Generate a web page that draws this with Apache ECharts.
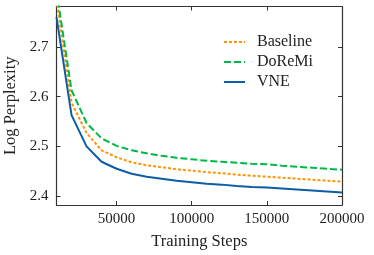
<!DOCTYPE html>
<html><head><meta charset="utf-8">
<script src="https://cdn.jsdelivr.net/npm/echarts@6/dist/echarts.min.js"></script>
<style>html,body{margin:0;padding:0;background:#fff}#c{width:374px;height:255px}</style>
</head><body><div id="c"></div>
<script>
const steps = [10000,20000,30000,40000,50000,60000,70000,80000,90000,100000,110000,120000,130000,140000,150000,160000,170000,180000,190000,200000];
const baseline = [2.795,2.588,2.527,2.492,2.478,2.468,2.462,2.458,2.454,2.451,2.448,2.446,2.443,2.441,2.439,2.437,2.435,2.433,2.431,2.429];
const doremi = [2.813,2.613,2.547,2.516,2.501,2.492,2.486,2.481,2.477,2.474,2.471,2.469,2.467,2.465,2.464,2.461,2.459,2.457,2.455,2.453];
const vne = [2.760,2.563,2.500,2.469,2.455,2.445,2.439,2.435,2.431,2.428,2.425,2.423,2.420,2.418,2.417,2.415,2.413,2.411,2.409,2.407];
const xTicks = [50000,100000,150000,200000];
const yTicks = [2.4,2.5,2.6,2.7];
const FONT = 'Liberation Serif';
const axisCol = '#333';
function pairs(v){return steps.map((s,i)=>[s,v[i]]);}
const chart = echarts.init(document.getElementById('c'));
const common = {axisLine:{show:true,onZero:false,lineStyle:{color:axisCol,width:1.2}},splitLine:{show:false}};
chart.setOption({
  animation:false,
  grid:{left:56.5,right:32,top:6.5,bottom:50,containLabel:false,outerBoundsMode:'none'},
  xAxis:[
    Object.assign({type:'value',min:10000,max:200000,position:'bottom',
      name:'Training Steps',nameLocation:'middle',nameGap:28,
      nameTextStyle:{fontFamily:FONT,fontSize:16.5,color:'#222'},
      axisTick:{show:true,inside:true,length:4,customValues:xTicks,lineStyle:{color:axisCol}},
      axisLabel:{customValues:xTicks,fontFamily:FONT,fontSize:15,color:'#222',margin:7,formatter:v=>String(v)}},common),
    Object.assign({type:'value',min:10000,max:200000,position:'top',
      axisTick:{show:true,inside:true,length:4,customValues:xTicks,lineStyle:{color:axisCol}},
      axisLabel:{show:false}},common)
  ],
  yAxis:[
    Object.assign({type:'value',min:2.382,max:2.7815,position:'left',
      name:'Log Perplexity',nameLocation:'middle',nameGap:33,
      nameTextStyle:{fontFamily:FONT,fontSize:16.5,color:'#222'},
      axisTick:{show:true,inside:true,length:4,customValues:yTicks,lineStyle:{color:axisCol}},
      axisLabel:{customValues:yTicks,fontFamily:FONT,fontSize:15,color:'#222',margin:8,formatter:v=>v.toFixed(1)}},common),
    Object.assign({type:'value',min:2.382,max:2.7815,position:'right',
      axisTick:{show:true,inside:true,length:4,customValues:yTicks,lineStyle:{color:axisCol}},
      axisLabel:{show:false}},common)
  ],
  legend:{left:218,top:29,orient:'vertical',itemWidth:21,itemHeight:12,itemGap:4,
    itemStyle:{opacity:0},
    textStyle:{fontFamily:FONT,fontSize:16,color:'#222',padding:[0,0,0,7]},
    data:['Baseline','DoReMi','VNE']},
  series:[
    {name:'Baseline',type:'line',data:pairs(baseline),symbol:'none',clip:true,
      lineStyle:{color:'#FF9500',width:2,type:[3,2]},itemStyle:{color:'#FF9500'}},
    {name:'DoReMi',type:'line',data:pairs(doremi),symbol:'none',clip:true,
      lineStyle:{color:'#00B945',width:2,type:[7,3]},itemStyle:{color:'#00B945'}},
    {name:'VNE',type:'line',data:pairs(vne),symbol:'none',clip:true,
      lineStyle:{color:'#0C5DA5',width:2},itemStyle:{color:'#0C5DA5'}}
  ]
});
</script></body></html>
